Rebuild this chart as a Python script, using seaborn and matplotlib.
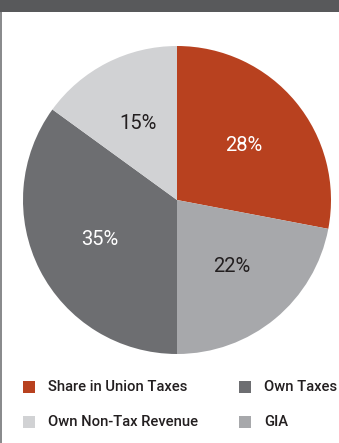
import matplotlib
matplotlib.use("Agg")
import matplotlib.pyplot as plt
from matplotlib.patches import Rectangle
import seaborn as sns

categories = ["Share in Union Taxes", "GIA", "Own Taxes", "Own Non-Tax Revenue"]
shares = [28, 22, 35, 15]
colors = ["#b8411f", "#a7a8ab", "#6d6e71", "#d1d2d4"]
label_colors = ["white", "#231f20", "white", "#231f20"]
# legend laid out row by row: (row, column, category)
legend_grid = [(0, 0, "Share in Union Taxes"), (0, 1, "Own Taxes"),
               (1, 0, "Own Non-Tax Revenue"), (1, 1, "GIA")]

sns.set_theme(style="white")
plt.rcParams["font.family"] = ["Roboto", "DejaVu Sans"]

W, H = 339, 443
fig = plt.figure(figsize=(W / 100, H / 100), dpi=100)
fig.patch.set_facecolor("white")

# header band and left rule
fig.add_artist(Rectangle((0, 1 - 12 / H), 1, 12 / H, transform=fig.transFigure,
                         facecolor="#58595b", edgecolor="none"))
fig.add_artist(Rectangle((0, 0), 2 / W, 1 - 12 / H, transform=fig.transFigure,
                         facecolor="#8a8b8d", edgecolor="none"))

cx, cy, r = 177, 200, 154
ax = fig.add_axes([(cx - r) / W, (H - cy - r) / H, 2 * r / W, 2 * r / H])
wedges, texts, autotexts = ax.pie(
    shares, colors=colors, startangle=90, counterclock=False,
    autopct=lambda p: f"{p:.0f}%", pctdistance=0.56,
    wedgeprops=dict(linewidth=0), textprops=dict(fontsize=14.5))
for t, c in zip(autotexts, label_colors):
    t.set_color(c)
ax.set_xlim(-1, 1)
ax.set_ylim(-1, 1)
ax.set_aspect("auto")
ax.axis("off")

# legend: swatch + label in a 2x2 grid
color_of = dict(zip(categories, colors))
col_x = [23, 239]
row_y = [387, 422]
sw = 12
for row, col, name in legend_grid:
    x0, yc = col_x[col], row_y[row]
    fig.add_artist(Rectangle((x0 / W, 1 - (yc + sw / 2) / H), sw / W, sw / H,
                             transform=fig.transFigure,
                             facecolor=color_of[name], edgecolor="none"))
    fig.text((x0 + 25) / W, 1 - yc / H, name, ha="left", va="center",
             fontsize=10.6, color="#231f20", fontweight="medium")

fig.savefig("out.png", dpi=100, facecolor="white")
